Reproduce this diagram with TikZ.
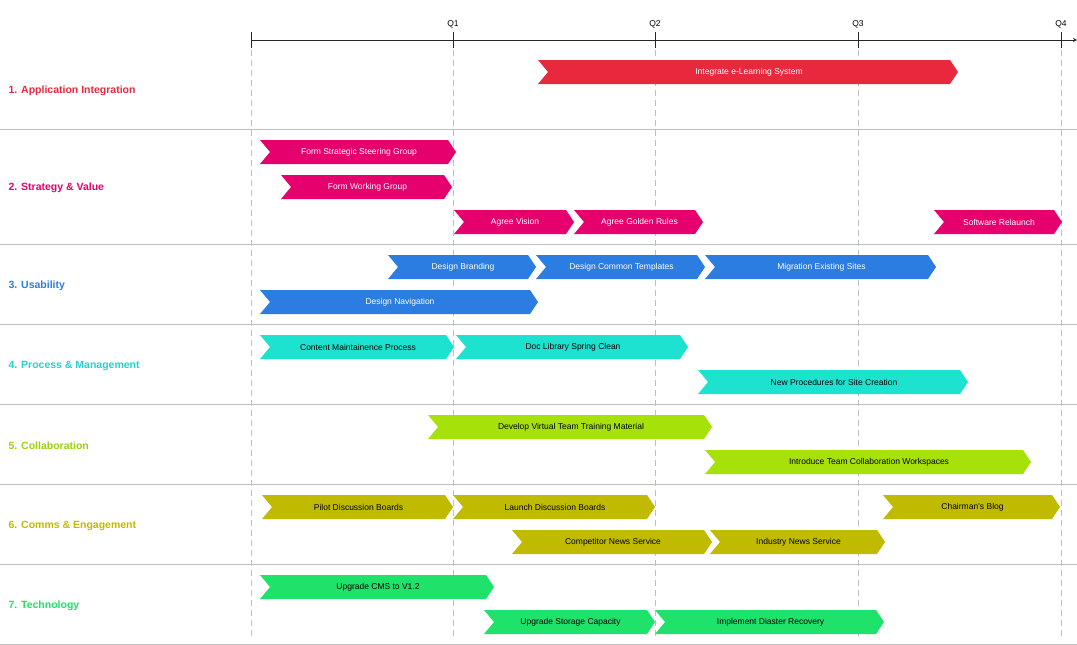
\documentclass[tikz,border=0pt]{standalone}
\usepackage{fontspec}
\setmainfont{Liberation Sans}
\definecolor{cRed}{HTML}{E8283C}
\definecolor{cMag}{HTML}{E6006E}
\definecolor{cBlue}{HTML}{2B7DE1}
\definecolor{cCyan}{HTML}{1EE2D0}
\definecolor{cCyanT}{HTML}{22D2CC}
\definecolor{cLime}{HTML}{A6E20A}
\definecolor{cLimeT}{HTML}{9AD20A}
\definecolor{cOlive}{HTML}{C0BA00}
\definecolor{cGreen}{HTML}{1EE26A}
\tikzset{
  rowlabel/.style={anchor=west, font=\fontsize{10.5}{12}\selectfont\bfseries},
  bartext/.style={font=\fontsize{8.5}{10}\selectfont},
  quarter/.style={font=\fontsize{8.5}{10}\selectfont, above},
  grid/.style={gray!50, dashed, dash pattern=on 6pt off 4pt, line width=0.8pt},
  rowline/.style={gray!50, line width=0.8pt}
}
\newcommand{\taskbar}[5]{%
  \fill[#4] (#1,{-(#3)+12}) -- ({#2-8},{-(#3)+12}) -- (#2,{-(#3)}) -- ({#2-8},{-(#3)-12}) -- (#1,{-(#3)-12}) -- ({#1+10},{-(#3)}) -- cycle;
  \node[bartext, #4!0!black, text=#5] at ({(#1+#2)/2+1},{-(#3)}) {\strut\phantom{}};}
\begin{document}
\begin{tikzpicture}[x=1pt,y=1pt]
    \useasboundingbox (0,0) rectangle (1077,-645);

    % Zeitachse
    \draw[gray!30!black, line width=0.8pt, -stealth] (251,-40) -- (1077,-40);
    \draw[gray!30!black, line width=0.8pt] (251,-32) -- (251,-48);
    \foreach \x/\q in {453/Q1, 655/Q2, 858/Q3, 1061/Q4} {
        \draw[gray!30!black, line width=0.8pt] (\x,-32) -- (\x,-48);
        \node[quarter] at (\x,-32) {\q};
    }
    \foreach \x in {251, 453, 655, 858, 1061} {
        \draw[grid] (\x,-50) -- (\x,-640);
    }

    % Zeilen
    \foreach \y in {129, 244, 324, 404, 484, 564, 644} {
        \draw[rowline] (0,-\y) -- (1077,-\y);
    }
    \node[rowlabel, text=cRed] at (5,-91) {1. Application Integration};
    \node[rowlabel, text=cMag] at (5,-188) {2. Strategy \& Value};
    \node[rowlabel, text=cBlue] at (5,-286) {3. Usability};
    \node[rowlabel, text=cCyanT] at (5,-366) {4. Process \& Management};
    \node[rowlabel, text=cLimeT] at (5,-446) {5. Collaboration};
    \node[rowlabel, text=cOlive] at (5,-526) {6. Comms \& Engagement};
    \node[rowlabel, text=cGreen] at (5,-606) {7. Technology};

    % Aufgaben
    \foreach \a/\b/\y/\c/\t/\tc in {
        538/958/72/cRed/Integrate e-Learning System/white,
        260/456/152/cMag/Form Strategic Steering Group/white,
        281/452/187/cMag/Form Working Group/white,
        454/574/222/cMag/Agree Vision/white,
        574/703/222/cMag/Agree Golden Rules/white,
        934/1062/222/cMag/Software Relaunch/white,
        388/536/267/cBlue/Design Branding/white,
        536/705/267/cBlue/Design Common Templates/white,
        705/936/267/cBlue/Migration Existing Sites/white,
        260/538/302/cBlue/Design Navigation/white,
        260/454/347/cCyan/Content Maintainence Process/black,
        456/688/347/cCyan/Doc Library Spring Clean/black,
        698/968/382/cCyan/New Procedures for Site Creation/black,
        428/712/427/cLime/Develop Virtual Team Training Material/black,
        705/1031/462/cLime/Introduce Team Collaboration Workspaces/black,
        262/453/507/cOlive/Pilot Discussion Boards/black,
        453/655/507/cOlive/Launch Discussion Boards/black,
        883/1060/507/cOlive/Chairman's Blog/black,
        512/712/542/cOlive/Competitor News Service/black,
        710/885/542/cOlive/Industry News Service/black,
        260/494/587/cGreen/Upgrade CMS to V1.2/black,
        484/655/622/cGreen/Upgrade Storage Capacity/black,
        655/884/622/cGreen/Implement Diaster Recovery/black} {
        \fill[\c] (\a,{-\y+12}) -- ({\b-8},{-\y+12}) -- (\b,-\y) -- ({\b-8},{-\y-12}) -- (\a,{-\y-12}) -- ({\a+10},-\y) -- cycle;
        \node[bartext, text=\tc] at ({(\a+\b)/2+1},-\y) {\t};
    }

\end{tikzpicture}
\end{document}
